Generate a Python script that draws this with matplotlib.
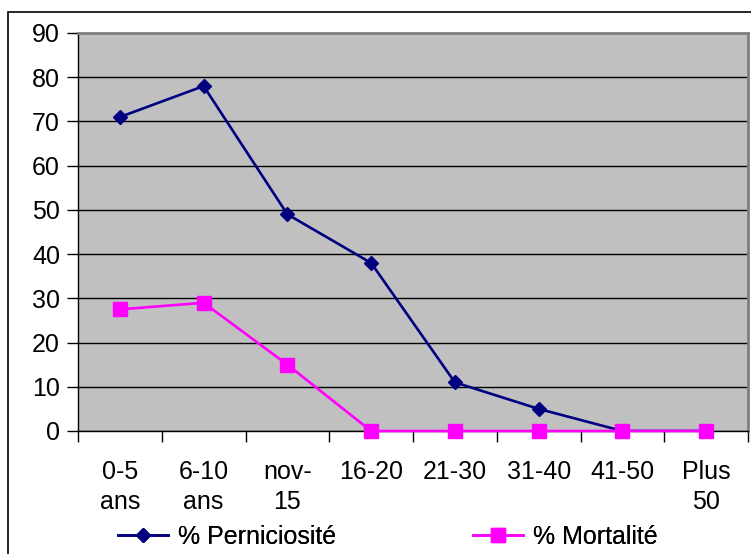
import matplotlib
matplotlib.use("Agg")
import matplotlib.pyplot as plt
from matplotlib.patches import Rectangle
import numpy as np

plt.rcParams['font.family'] = ['Liberation Sans', 'DejaVu Sans']

categories = ["0-5\nans", "6-10\nans", "nov-\n15", "16-20", "21-30", "31-40", "41-50", "Plus\n50"]
perniciosite = [71, 78, 49, 38, 11, 5, 0, 0]
mortalite = [27.5, 29, 15, 0, 0, 0, 0, 0]
yticks = [0, 10, 20, 30, 40, 50, 60, 70, 80, 90]

W, H = 751, 554
FS = 18
fig = plt.figure(figsize=(W / 100, H / 100), dpi=100)

# outer chart frame
fig.patches.append(Rectangle((8 / W, -0.05), 1.2, 1 - 12 / H + 0.05, transform=fig.transFigure,
                             fill=False, edgecolor='black', linewidth=1.2, zorder=0))

ax = fig.add_axes([78 / W, 123 / H, 670 / W, 398 / H])
ax.set_facecolor('#C0C0C0')
x = np.arange(len(categories))

l1, = ax.plot(x, perniciosite, color='#000080', linewidth=1.9, marker='D', markersize=7.5,
              markerfacecolor='#000080', markeredgecolor='#000080', label='% Perniciosité', zorder=3)
l2, = ax.plot(x, mortalite, color='#FF00FF', linewidth=1.9, marker='s', markersize=10.5,
              markerfacecolor='#FF00FF', markeredgecolor='#FF00FF', label='% Mortalité', zorder=4,
              clip_on=False)

ax.set_xlim(-0.5, len(categories) - 0.5)
ax.set_ylim(0, 90)
ax.set_yticks(yticks)
ax.set_yticklabels([str(v) for v in yticks])
ax.yaxis.grid(True, color='black', linewidth=1.0)
ax.set_axisbelow(True)

ax.set_xticks(x)
ax.set_xticklabels(categories, linespacing=1.3, va='top')
ax.set_xticks(np.arange(len(categories) + 1) - 0.5, minor=True)
ax.tick_params(axis='x', which='major', length=0, pad=21, labelsize=FS)
ax.tick_params(axis='x', which='minor', length=8, width=1, direction='out')
ax.tick_params(axis='y', length=8, width=1, direction='out', pad=5, labelsize=FS)

for side in ['top', 'right']:
    ax.spines[side].set_color('#808080')
    ax.spines[side].set_linewidth(2)
for side in ['left', 'bottom']:
    ax.spines[side].set_color('black')
    ax.spines[side].set_linewidth(1)

# two legend entries placed along the bottom of the frame
leg_y = 1 - 537 / H
for handle, x0 in [(l1, 118 / W), (l2, 473 / W)]:
    leg = fig.legend(handles=[handle], loc='center left', bbox_to_anchor=(x0, leg_y),
                     frameon=False, fontsize=FS, handlelength=2.0, handletextpad=0.4,
                     borderpad=0, borderaxespad=0)
    fig.add_artist(leg)

fig.savefig('out.png', dpi=100)
